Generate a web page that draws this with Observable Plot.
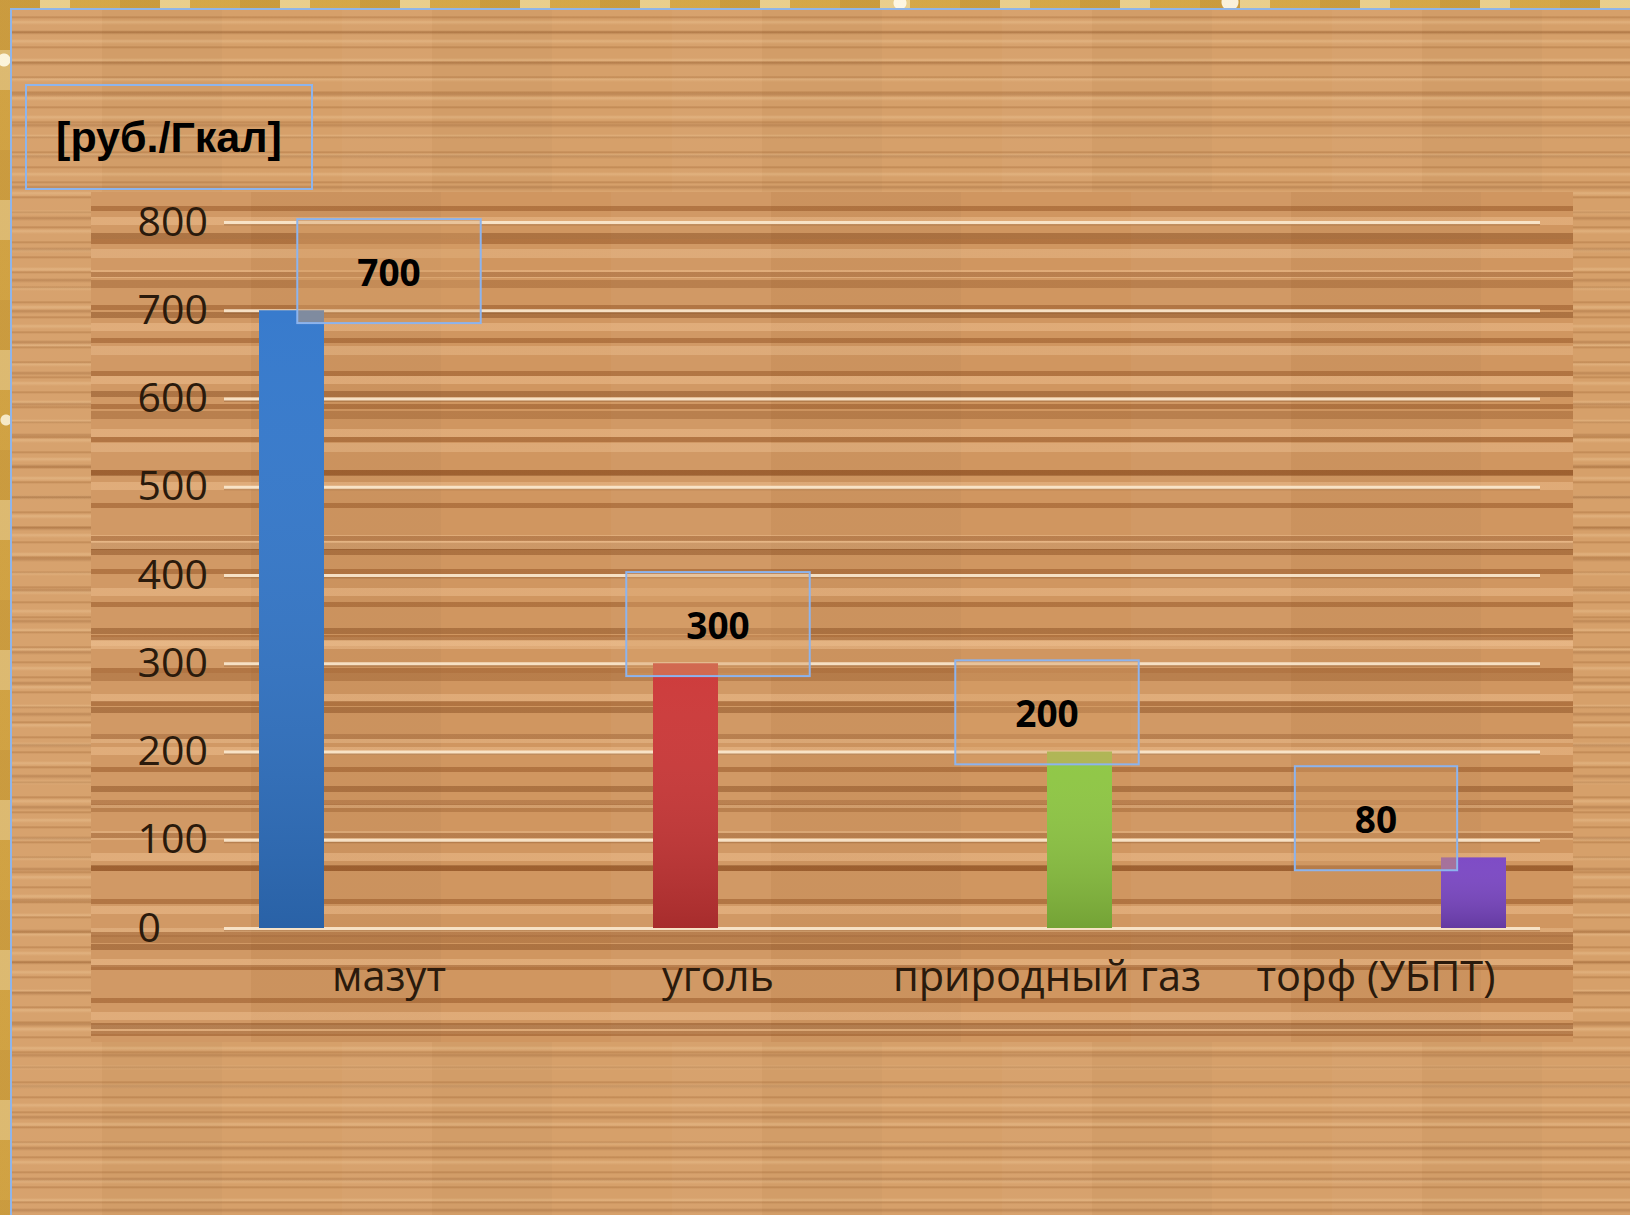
<!DOCTYPE html>
<html>
<head>
<meta charset="utf-8">
<script src="https://cdn.jsdelivr.net/npm/d3@7"></script>
<script src="https://cdn.jsdelivr.net/npm/@observablehq/plot@0.6"></script>
<style>
  html, body { margin: 0; padding: 0; width: 1630px; height: 1215px; overflow: hidden; }
  body {
    position: relative;
    background-color: #e8c466;
    background-image:
      radial-gradient(circle at 4px 60px, rgba(255,250,230,.9) 0 6px, transparent 7px),
      radial-gradient(circle at 6px 420px, rgba(255,250,230,.8) 0 5px, transparent 6px),
      radial-gradient(circle at 900px 3px, rgba(255,250,235,.9) 0 6px, transparent 7px),
      radial-gradient(circle at 1230px 2px, rgba(255,250,235,.9) 0 8px, transparent 9px),
      repeating-linear-gradient(90deg, rgba(170,110,20,.3) 0 40px, rgba(255,245,215,.45) 40px 70px, rgba(200,140,30,.2) 70px 120px),
      repeating-linear-gradient(180deg, rgba(170,110,20,.25) 0 50px, rgba(255,245,215,.45) 50px 90px, rgba(200,140,30,.2) 90px 150px);
  }
  /* wooden board behind everything */
  #board {
    position: absolute; left: 10px; top: 8px; right: 0; bottom: 0;
    border-left: 2px solid #8fb5ea; border-top: 2px solid #8fb5ea;
    background-color: #d6a06a;
    background-image:
      repeating-linear-gradient(180deg, rgba(140,80,30,0) 0px 6px, rgba(140,80,30,.32) 7px, rgba(140,80,30,0) 9px 15px),
      repeating-linear-gradient(180deg, rgba(0,0,0,0) 0px 20px, rgba(120,65,25,.25) 22px, rgba(0,0,0,0) 25px 31px),
      repeating-linear-gradient(180deg, rgba(255,225,180,0) 0 10px, rgba(255,225,180,.25) 12px, rgba(255,225,180,0) 15px 19px),
      repeating-linear-gradient(90deg, rgba(255,255,255,.025) 0 90px, rgba(0,0,0,.02) 90px 210px, rgba(255,255,255,0) 210px 330px);
  }
  /* coarser planks behind the plot area */
  #panel {
    position: absolute; left: 91px; top: 192px; width: 1482px; height: 850px;
    background-color: #d09660;
    background-image:
      repeating-linear-gradient(180deg, transparent 0 14px, rgba(140,75,28,.45) 14px 19px, transparent 19px 33px),
      repeating-linear-gradient(180deg, transparent 0 25px, rgba(242,196,148,.45) 25px 33px, transparent 33px 53px),
      repeating-linear-gradient(180deg, transparent 0 41px, rgba(120,62,20,.4) 41px 47px, transparent 47px 79px),
      repeating-linear-gradient(180deg, transparent 0 57px, rgba(250,212,168,.3) 57px 66px, transparent 66px 97px),
      repeating-linear-gradient(180deg, transparent 0 88px, rgba(130,70,25,.3) 88px 96px, transparent 96px 131px),
      repeating-linear-gradient(90deg, rgba(255,255,255,.03) 0 160px, rgba(0,0,0,.025) 160px 350px, rgba(255,255,255,0) 350px 520px);
  }
  #unit {
    position: absolute; left: 25px; top: 84px; width: 284px; height: 102px;
    border: 2px solid #8db4ec;
    display: flex; align-items: center; justify-content: center;
    font: bold 43px "Liberation Sans", Arial, sans-serif; color: #000;
  }
  #chart { position: absolute; left: 0; top: 0; }
</style>
</head>
<body>
<div id="board"></div>
<div id="panel"></div>
<div id="unit">[руб./Гкал]</div>
<div id="chart"></div>
<svg width="0" height="0" style="position:absolute">
  <defs>
    <linearGradient id="barShade" x1="0" y1="0" x2="0" y2="1">
      <stop offset="0" stop-color="#ffffff" stop-opacity="0.03"/>
      <stop offset="1" stop-color="#000000" stop-opacity="0.18"/>
    </linearGradient>
  </defs>
</svg>
<script>
// Fuel cost per Gcal of heat
const categories = ["мазут", "уголь", "природный газ", "торф (УБПТ)"];
const values = [700, 300, 200, 80];
const barColors = ["#3277cb", "#cc3636", "#8dc641", "#7a46c4"];
const yTicks = [0, 100, 200, 300, 400, 500, 600, 700, 800];

const rows = categories.map((c, i) => ({category: c, value: values[i]}));
const ink = "#2a1a0c";

const chart = Plot.plot({
  width: 1630,
  height: 1215,
  marginLeft: 223,
  marginRight: 89,
  marginTop: 222,
  marginBottom: 287,
  style: {background: "transparent", fontFamily: "'Open Sans', sans-serif", overflow: "visible"},
  fx: {domain: categories, padding: 0},
  x: {domain: categories, paddingInner: 0, paddingOuter: 0.52, axis: null},
  y: {domain: [0, 800], axis: null},
  color: {domain: categories, range: barColors},
  marks: [
    Plot.ruleY(yTicks, {stroke: "#7a4a22", strokeOpacity: 0.3, strokeWidth: 2, dy: 2}),
    Plot.ruleY(yTicks, {stroke: "#fbe9cf", strokeOpacity: 0.9, strokeWidth: 3}),
    Plot.barY(rows, {fx: "category", x: "category", y: "value", fill: "category"}),
    Plot.barY(rows, {fx: "category", x: "category", y: "value", fill: "url(#barShade)"}),
    Plot.axisY(yTicks, {tickSize: 0, tickPadding: 0, textAnchor: "start", dx: -87, fontSize: 41, fill: ink, label: null}),
    Plot.axisFx({anchor: "bottom", tickSize: 0, tickPadding: 33, fontSize: 41.5, fill: ink, label: null}),
    Plot.text(rows, {fx: "category", y: "value", text: d => String(d.value), dy: -37, fontSize: 37, fontWeight: "bold", fill: "#000"})
  ]
});

document.getElementById("chart").append(chart);

// framed callouts around the value labels
const ns = "http://www.w3.org/2000/svg";
chart.querySelectorAll('g[aria-label="text"] text').forEach(t => {
  const b = t.getBBox();
  const padX = 60, h = 104;
  const cy = b.y + b.height / 2;
  const r = document.createElementNS(ns, "rect");
  r.setAttribute("x", b.x - padX);
  r.setAttribute("y", cy - h / 2);
  r.setAttribute("width", b.width + 2 * padX);
  r.setAttribute("height", h);
  r.setAttribute("fill", "rgba(214,160,104,0.45)");
  r.setAttribute("stroke", "#8cb4ee");
  r.setAttribute("stroke-width", 2);
  const tr = t.getAttribute("transform");
  if (tr) r.setAttribute("transform", tr);
  t.parentNode.insertBefore(r, t);
});
</script>
</body>
</html>
